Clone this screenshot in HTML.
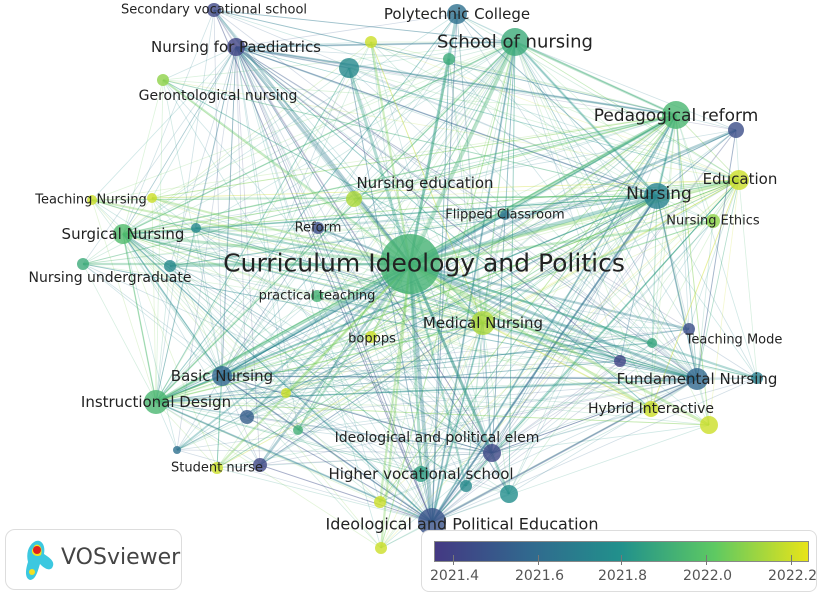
<!DOCTYPE html>
<html><head><meta charset="utf-8">
<style>
html,body{margin:0;padding:0;background:#fff;}
body{width:819px;height:593px;overflow:hidden;font-family:"DejaVu Sans","Liberation Sans",sans-serif;}
svg{position:absolute;left:0;top:0;}
</style></head>
<body>
<svg id="net" width="819" height="593"></svg>
<script>
const names=["Curriculum Ideology and Politics","School of nursing","Polytechnic College","Secondary vocational school","Nursing for Paediatrics","Gerontological nursing","","","","Pedagogical reform","","Education","Nursing","Nursing Ethics","Nursing education","Flipped Classroom","Teaching Nursing","","Surgical Nursing","","Reform","Nursing undergraduate","","practical teaching","boppps","Medical Nursing","Teaching Mode","","","Fundamental Nursing","","Hybrid Interactive","","Basic Nursing","","Instructional Design","","","","Student nurse","","Ideological and political elem","Higher vocational school","","","","Ideological and Political Education",""];
const posX=[410,515,457,214,236,163,349,449,371,676,736,739,657,713,354,505,92,152,123,196,318,83,170,317,371,483,689,652,620,697,757,651,709,222,286,156,247,298,177,217,260,492,421,466,509,380,432,381];
const posY=[264,42,14,10,47,80,68,59,42,115,130,180,196,221,199,215,200,198,234,228,228,264,266,296,337,323,329,343,361,379,378,409,425,376,393,402,417,430,450,468,465,453,474,486,494,502,522,548];
const weights=[30,14,10,7,9,6,10,6,6,14,8,10,13,7,8,5,5,5,10,5,6,6,6,6,6,12,6,5,6,11,6,8,9,10,5,12,7,5,4,6,7,9,8,6,9,6,14,6];
const years=[2021.93,2021.9,2021.62,2021.42,2021.4,2022.1,2021.75,2021.9,2022.2,2021.95,2021.45,2022.2,2021.72,2022.1,2022.15,2021.65,2022.2,2022.2,2021.97,2021.75,2021.45,2021.9,2021.75,2021.93,2022.2,2022.15,2021.45,2021.88,2021.4,2021.58,2021.7,2022.2,2022.2,2021.58,2022.2,2021.95,2021.52,2021.92,2021.62,2022.2,2021.42,2021.42,2021.85,2021.75,2021.78,2022.2,2021.48,2022.2];
const labelX=[424,515,457,214,236,218,0,0,0,676,0,740,659,713,425,505,91,0,123,0,318,110,0,317,372,483,734,0,0,697,0,651,0,222,0,156,0,0,0,217,0,437,421,0,0,0,462,0];
const labelY=[263,42,14,10,47,96,0,0,0,116,0,179,194,221,183,215,200,0,234,0,228,278,0,296,339,323,340,0,0,379,0,409,0,376,0,402,0,0,0,468,0,438,474,0,0,0,524,0];
const fontSizes=[25,18,15,13,15,14,0,0,0,17,0,15,17,13,15,13,13,0,15,0,13,14,0,13,13,15,13,0,0,15,0,14,0,15,0,15,0,0,0,13,0,14,15,0,0,0,16,0];
const linkSrc=[4,4,4,4,3,3,2,1,1,1,1,1,9,9,9,9,9,12,12,12,12,11,11,10,10,46,46,46,46,46,46,41,41,25,25,25,29,29,18,18,18,14,14,33,33,36,40,40,5,5,16,16,17,22,21,21,28,28,31,32,32,13,6,6,7,8,45,47,44,44,43,42,24,23,20,19,26,27,30,38,37,34,39,2,2,3,10,11,11,15];
const linkDst=[9,1,12,6,1,9,12,9,12,18,35,46,12,18,35,46,33,18,35,46,29,12,31,12,29,35,33,29,12,18,25,29,33,29,31,35,35,33,35,33,14,12,9,35,39,46,46,12,12,29,12,29,9,12,9,29,35,4,4,9,35,35,35,46,46,25,9,1,4,1,18,9,12,29,46,29,35,33,18,12,1,9,12,46,35,46,35,35,46,33];
const linkW=[2,2,1.5,1.5,1,1,1,2.5,2.5,1.5,1.5,2,2.5,1.5,1.5,2,1.5,1.5,1.5,2,1.5,1.5,1,1,1,2,1.5,2,2,1.5,2,1,1,1.5,1.5,1.5,1.5,1.5,1.5,1.5,1,1,1,1.5,1,1,1,1,1,1,1,1,1,1,1,1,1,1,1,1,1,1,1,1,1,1,1,1,1,1,1,1,1,1,1,1,1,1,1,1,1,1,1,1,1,1,1,1,1,1];
const hubs=[1,9,12,29,33,35,46,18,25,4,41,11];

const stops=[[0,[68,57,131]],[0.25,[49,104,142]],[0.5,[33,145,140]],[0.75,[94,201,98]],[1,[232,228,25]]];
const yMin=2021.355,yMax=2022.245;
function colorOf(y){let t=Math.max(0,Math.min(1,(y-yMin)/(yMax-yMin)));for(let i=1;i<stops.length;i++){if(t<=stops[i][0]){const a=stops[i-1],b=stops[i];const f=(t-a[0])/(b[0]-a[0]);const c=a[1].map((v,k)=>Math.round(v+(b[1][k]-v)*f));return `rgb(${c.join(',')})`;}}return 'rgb(232,228,25)';}
const NS="http://www.w3.org/2000/svg";
const svg=document.getElementById('net');
function mk(t,a){const e=document.createElementNS(NS,t);for(const k in a)e.setAttribute(k,a[k]);return e;}
const gL=mk('g',{});


svg.appendChild(gL);
function addLink(a,b,w,o){
  const l=mk('line',{x1:posX[a],y1:posY[a],x2:posX[b],y2:posY[b],stroke:colorOf((years[a]+years[b])/2),'stroke-width':w,'stroke-opacity':o});
  
  
  gL.appendChild(l);
}
for(const h of hubs){for(let i=1;i<names.length;i++){if(i!==h)addLink(h,i,0.8,0.22);}}
for(let k=0;k<linkSrc.length;k++){addLink(linkSrc[k],linkDst[k],linkW[k],0.3);}
for(let i=1;i<names.length;i++){addLink(0,i,1+weights[i]/5,0.35);}
const gN=mk('g',{});


svg.appendChild(gN);
for(let i=0;i<names.length;i++){
  const c=mk('circle',{cx:posX[i],cy:posY[i],r:weights[i],fill:colorOf(years[i]),'fill-opacity':0.8});
  
  
  gN.appendChild(c);
}
const gT=mk('g',{});


svg.appendChild(gT);
for(let i=0;i<names.length;i++){
  if(!names[i])continue;
  const t=mk('text',{x:labelX[i],y:labelY[i],'font-size':fontSizes[i],'text-anchor':'middle','dominant-baseline':'central',fill:'#222','font-family':'DejaVu Sans, Liberation Sans, sans-serif'});
  t.textContent=names[i];
  
  
  gT.appendChild(t);
}
</script>
<div style="position:absolute;left:5px;top:529px;width:175px;height:59px;border:1px solid #ddd;border-radius:10px;background:#fff;">
  <svg width="40" height="50" style="position:absolute;left:16px;top:6px">
    <path d="M12 6 C18 2 24 8 22 18 C28 22 34 26 30 32 C26 36 20 30 18 28 C16 34 14 44 8 44 C2 42 4 32 6 26 C4 18 6 10 12 6Z" fill="#3cc8e0"/>
    <path d="M13 9 C18 7 21 13 19 19 C14 22 9 18 10 14Z" fill="#f3e020"/>
    <circle cx="15" cy="14" r="4" fill="#e02020"/>
    <circle cx="10" cy="36" r="3" fill="#f3e020"/>
  </svg>
  <div style="position:absolute;left:55px;top:15px;font-size:22px;color:#444;font-family:'DejaVu Sans','Liberation Sans',sans-serif;">VOSviewer</div>
</div>
<div style="position:absolute;left:421px;top:530px;width:394px;height:60px;border:1px solid #ddd;border-radius:8px;background:#fff;">
  <div style="position:absolute;left:12px;top:10px;width:373px;height:19px;border:1px solid #888;background:linear-gradient(to right,#443983,#31688e,#21918c,#5ec962,#e8e419);"></div>
  <div style="position:absolute;left:0;top:0;font-size:14px;color:#555;">
    <span style="position:absolute;left:31px;top:24px;width:1px;height:10px;background:#777"></span>
    <span style="position:absolute;left:116px;top:24px;width:1px;height:10px;background:#777"></span>
    <span style="position:absolute;left:199px;top:24px;width:1px;height:10px;background:#777"></span>
    <span style="position:absolute;left:284px;top:24px;width:1px;height:10px;background:#777"></span>
    <span style="position:absolute;left:369px;top:24px;width:1px;height:10px;background:#777"></span>
    <span style="position:absolute;left:8px;top:37px;">2021.4</span>
    <span style="position:absolute;left:93px;top:37px;">2021.6</span>
    <span style="position:absolute;left:176px;top:37px;">2021.8</span>
    <span style="position:absolute;left:261px;top:37px;">2022.0</span>
    <span style="position:absolute;left:346px;top:37px;">2022.2</span>
  </div>
</div>
</body></html>
